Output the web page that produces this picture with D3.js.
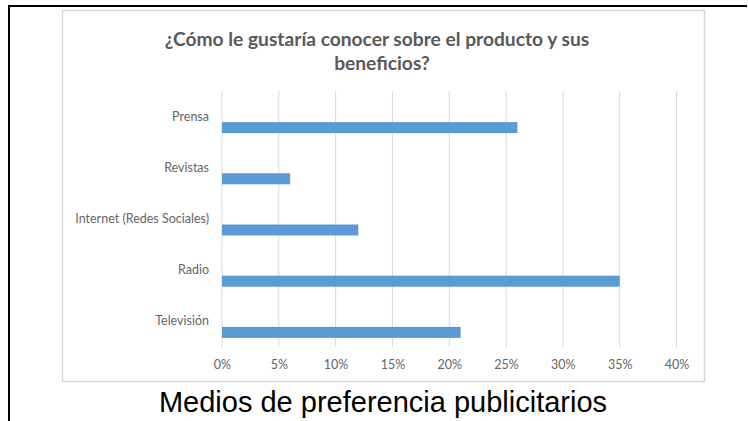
<!DOCTYPE html>
<html>
<head>
<meta charset="utf-8">
<script src="https://cdn.jsdelivr.net/npm/d3@7/dist/d3.min.js"></script>
<style>
  html, body { margin: 0; padding: 0; background: #fff; }
  svg { display: block; }
</style>
</head>
<body>
<svg id="chart" width="748" height="421"></svg>
<script>
// Survey: preferred media to learn about the product
const categories = ["Prensa", "Revistas", "Internet (Redes Sociales)", "Radio", "Televisión"];
const values = [0.26, 0.06, 0.12, 0.35, 0.21];
const tickValues = [0, 0.05, 0.10, 0.15, 0.20, 0.25, 0.30, 0.35, 0.40];
const titleLines = ["¿Cómo le gustaría conocer sobre el producto y sus", "beneficios?"];
const caption = "Medios de preferencia publicitarios";

const svg = d3.select("#chart");
const W = 748, H = 421;

// Outer frame (left and top rules)
svg.append("line").attr("x1", 9).attr("x2", 9).attr("y1", 5).attr("y2", H)
  .attr("stroke", "#000").attr("stroke-width", 2);
svg.append("line").attr("x1", 8).attr("x2", 747).attr("y1", 6).attr("y2", 6)
  .attr("stroke", "#000").attr("stroke-width", 2);

// Chart area border
svg.append("rect").attr("x", 62.5).attr("y", 10.5).attr("width", 642).attr("height", 371)
  .attr("fill", "#fff").attr("stroke", "#d9d9d9").attr("stroke-width", 1.5);

// Title (two centred lines)
const title = svg.append("text")
  .attr("text-anchor", "middle")
  .attr("font-family", "Lato, 'Open Sans', sans-serif")
  .attr("font-weight", "bold")
  .attr("font-size", 19.2)
  .attr("fill", "#595959");
const titleX = [377, 382];
titleLines.forEach((t, i) => {
  title.append("tspan").attr("x", titleX[i]).attr("y", 46 + i * 24).text(t);
});

const x = d3.scaleLinear().domain([0, 0.4]).range([222, 676.5]);
const y = d3.scaleBand().domain(categories).range([91, 347]).padding(0);

// Vertical gridlines
svg.append("g").selectAll("line").data(tickValues).join("line")
  .attr("x1", d => x(d)).attr("x2", d => x(d))
  .attr("y1", 91).attr("y2", 347)
  .attr("stroke", "#d9d9d9").attr("stroke-width", 1);

// Bars
const barH = 11;
svg.append("g").selectAll("rect").data(categories).join("rect")
  .attr("x", x(0))
  .attr("y", (d) => y(d) + y.bandwidth() / 2 + 5.5)
  .attr("width", (d, i) => x(values[i]) - x(0))
  .attr("height", barH)
  .attr("fill", "#5b9bd5");

// Category labels
const yAxis = d3.axisLeft(y).tickSize(0).tickPadding(0);
const gy = svg.append("g").attr("transform", "translate(209,0)").call(yAxis);
gy.select(".domain").remove();
gy.selectAll("text")
  .attr("font-family", "Lato, sans-serif")
  .attr("font-size", 12.5)
  .attr("fill", "#666");

// Percentage axis
const xAxis = d3.axisBottom(x).tickValues(tickValues).tickSize(0).tickPadding(0)
  .tickFormat(d3.format(".0%"));
const gx = svg.append("g").attr("transform", "translate(0,360)").call(xAxis);
gx.select(".domain").remove();
gx.selectAll("text")
  .attr("font-family", "Lato, sans-serif")
  .attr("font-size", 12.5)
  .attr("fill", "#666");

// Caption below the chart
svg.append("text")
  .attr("x", 383).attr("y", 412)
  .attr("text-anchor", "middle")
  .attr("font-family", "Arial, 'Liberation Sans', sans-serif")
  .attr("font-size", 29)
  .attr("fill", "#000")
  .text(caption);
</script>
</body>
</html>
